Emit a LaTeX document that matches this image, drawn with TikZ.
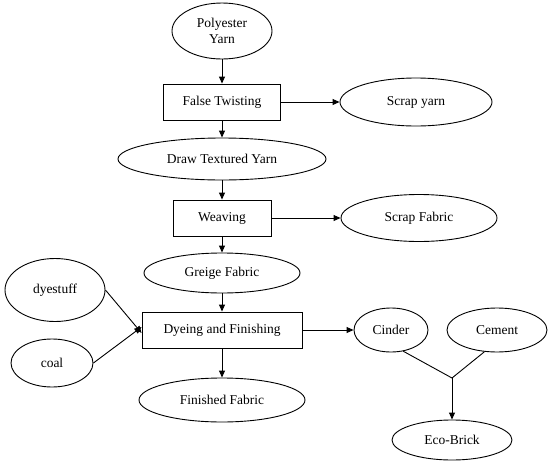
\documentclass[tikz,border=0pt]{standalone}
\usepackage{fontspec}
\setmainfont{Liberation Serif}
\usetikzlibrary{shapes.geometric,arrows.meta}
\begin{document}
\begin{tikzpicture}[x=1pt,y=-1pt,
  every node/.style={font=\fontsize{13.5}{15}\selectfont, inner sep=0pt},
  ell/.style={draw, ellipse, line width=0.9pt},
  boxx/.style={draw, rectangle, line width=0.9pt},
  arr/.style={-{Triangle[length=7pt,width=6pt]}, line width=0.9pt},
  ln/.style={line width=0.9pt}]
\useasboundingbox (0,0) rectangle (550,464);
\node[ell, minimum width=100, minimum height=56, align=center] (py) at (222,31) {Polyester\\[1pt]Yarn};
\node[boxx, minimum width=117, minimum height=36] (ft) at (222,102) {False Twisting};
\node[ell, minimum width=152, minimum height=48] (sy) at (416,102) {Scrap yarn};
\node[ell, minimum width=208, minimum height=42] (dty) at (222,159) {Draw Textured Yarn};
\node[boxx, minimum width=98, minimum height=36] (wv) at (222,218) {Weaving};
\node[ell, minimum width=156, minimum height=47] (sf) at (419,218) {Scrap Fabric};
\node[ell, minimum width=156, minimum height=40] (gf) at (222,273) {Greige Fabric};
\node[boxx, minimum width=160, minimum height=36] (df) at (222,330) {Dyeing and Finishing};
\node[ell, minimum width=100, minimum height=63] (ds) at (55,290) {dyestuff};
\node[ell, minimum width=82, minimum height=48] (coal) at (52,363) {coal};
\node[ell, minimum width=166, minimum height=44] (ff) at (222,400) {Finished Fabric};
\node[ell, minimum width=74, minimum height=44] (ci) at (391,330) {Cinder};
\node[ell, minimum width=100, minimum height=44] (ce) at (497,330) {Cement};
\node[ell, minimum width=120, minimum height=40] (eb) at (452,440) {Eco-Brick};
\coordinate (j) at (452,378);

\draw[arr] (py) -- (ft);
\draw[arr] (ft) -- (sy);
\draw[arr] (ft) -- (dty);
\draw[arr] (dty) -- (wv);
\draw[arr] (wv) -- (sf);
\draw[arr] (wv) -- (gf);
\draw[arr] (gf) -- (df);
\draw[arr] (ds.east) -- ([yshift=-3]df.west);
\draw[arr] (coal.east) -- ([yshift=3]df.west);
\draw[arr] (df) -- (ff);
\draw[arr] (df) -- (ci);
\draw[ln] (ci.-60) -- (j) -- (ce.-120);
\draw[arr] (j) -- (eb);
\end{tikzpicture}
\end{document}
